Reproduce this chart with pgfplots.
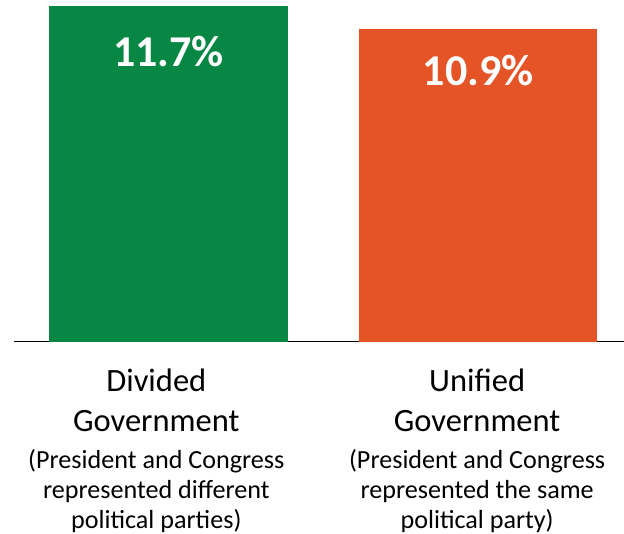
\documentclass[border=0pt]{standalone}
\usepackage{fontspec}
\setmainfont{Carlito}
\usepackage{pgfplots}
\pgfplotsset{compat=1.18}
\definecolor{divgreen}{RGB}{8,135,68}
\definecolor{unired}{RGB}{228,84,39}
\begin{document}
\begin{tikzpicture}
\begin{axis}[
  at={(0,0)}, anchor=south west,
  scale only axis, width=457.5pt, height=256.5pt,
  xmin=-0.5, xmax=1.4717, ymin=0, ymax=11.92,
  enlargelimits=false, clip=false,
  axis x line*=bottom, axis y line=none,
  x axis line style={-, black, line width=0.75pt},
  ytick=\empty,
  xtick={-0.04,0.997},
  xticklabels={{Divided\\Government},{Unified\\Government}},
  xtick style={draw=none},
  xticklabel style={align=center, anchor=base, yshift=-63pt, font=\fontsize{24.4}{30}\selectfont, text=black},
  extra x ticks={-0.04,0.997},
  extra x tick labels={{(President and Congress\\represented different\\political parties)},{(President and Congress\\represented the same\\political party)}},
  extra x tick style={xticklabel style={yshift=-72.75pt, font=\fontsize{19.6}{22.5}\selectfont}, tick style={draw=none}},
  ybar, bar width=0.772,
  nodes near coords={\pgfmathprintnumber[assume math mode=true,fixed,fixed zerofill,precision=1]{\pgfplotspointmeta}\%},
  every node near coord/.append style={font=\fontsize{33}{40}\selectfont\bfseries, text=white, anchor=base},
]
\addplot[draw=none, fill=divgreen, bar shift=0pt, every node near coord/.append style={yshift=-45pt}] coordinates {(0,11.7)};
\addplot[draw=none, fill=unired, bar shift=0pt, every node near coord/.append style={yshift=-42pt}] coordinates {(1,10.9)};
\end{axis}
\pgfresetboundingbox
\path[use as bounding box] (-10.5pt,-144pt) rectangle (457.5pt,256.5pt);
\end{tikzpicture}
\end{document}
